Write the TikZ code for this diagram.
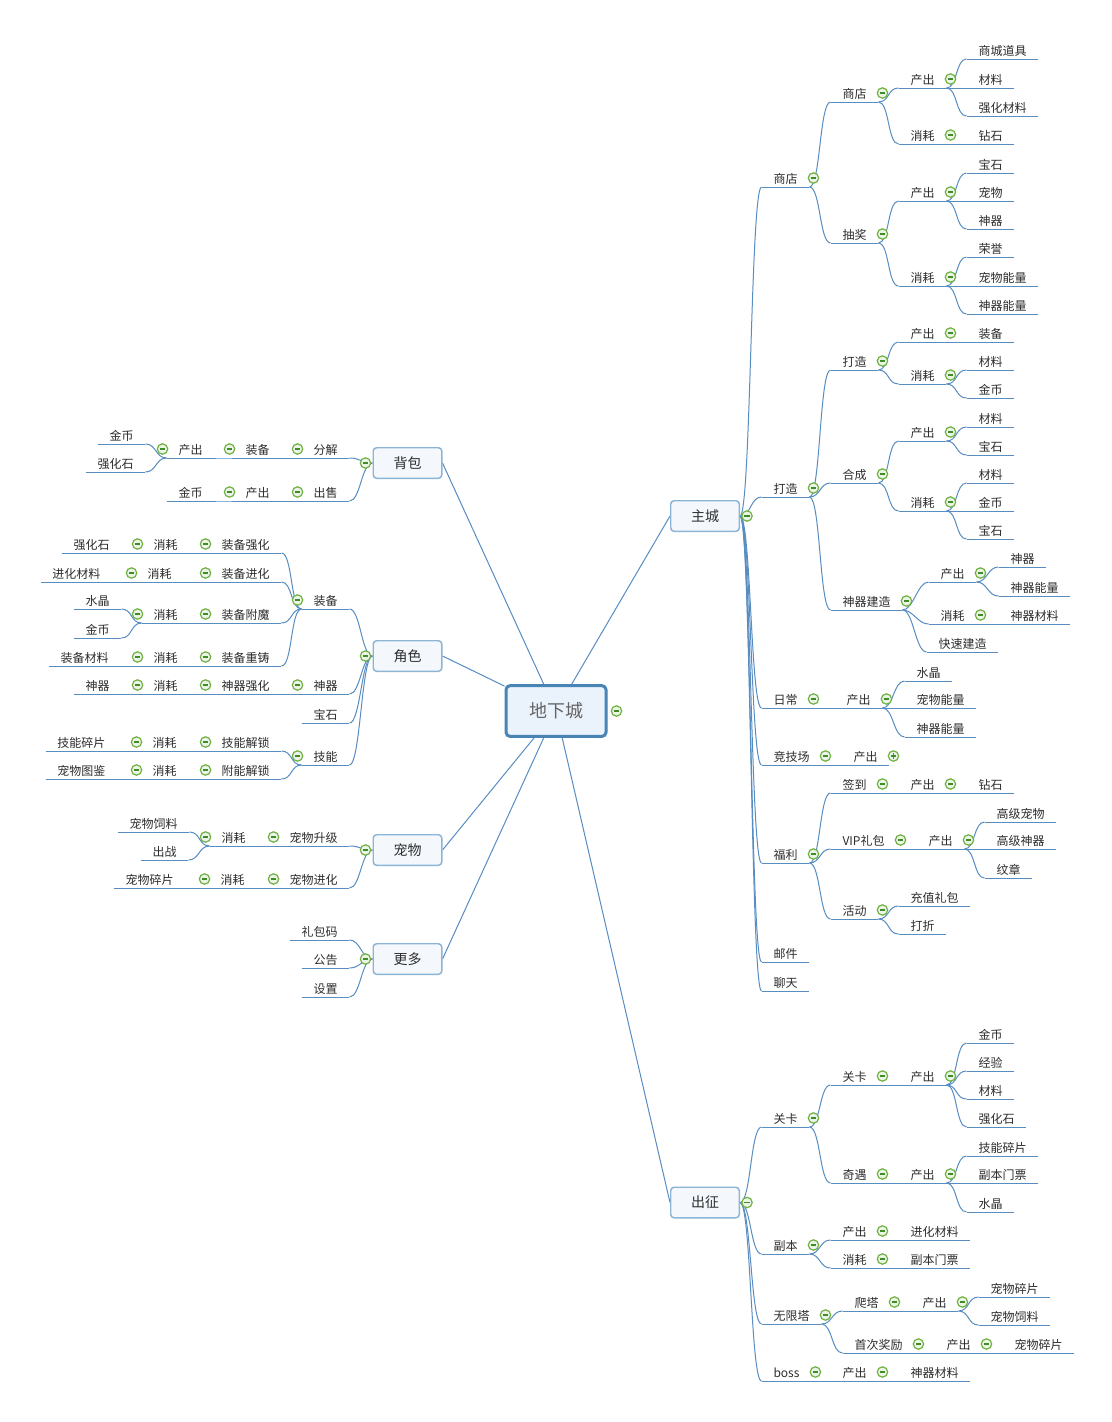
\documentclass[tikz,border=0pt]{standalone}
\usepackage{fontspec}
\newfontfamily\cjk{Noto Sans CJK SC}
\usetikzlibrary{calc}
\pgfdeclarelayer{background}
\pgfsetlayers{background,main}

\definecolor{linkblue}{RGB}{88,141,193}
\definecolor{boxline}{RGB}{140,180,212}
\definecolor{boxfill}{RGB}{244,248,253}
\definecolor{rootline}{RGB}{72,132,180}
\definecolor{rootfill}{RGB}{234,242,251}
\definecolor{rootText}{RGB}{100,100,100}
\definecolor{foldring}{RGB}{112,178,66}
\definecolor{foldfill}{RGB}{236,243,231}
\definecolor{foldbar}{RGB}{64,140,40}
\definecolor{txt}{RGB}{45,45,45}

\tikzset{every picture/.style={line width=0.75pt}}
\tikzset{
  branch/.style={draw=linkblue, line width=0.75pt},
  rlink/.style={branch, to path={.. controls +(11,0) and +(-11,0) .. (\tikztotarget)}},
  llink/.style={branch, to path={.. controls +(-11,0) and +(11,0) .. (\tikztotarget)}},
  foldpic/.pic={
    \draw[draw=foldring, fill=foldfill, line width=0.9pt] (0,0) circle [radius=5.2];
    \draw[draw=foldbar, line width=1.1pt] (-2.6,0) -- (2.6,0);},
  expandpic/.pic={
    \draw[draw=foldring, fill=foldfill, line width=0.9pt] (0,0) circle [radius=5.2];
    \draw[draw=foldbar, line width=1.1pt] (-2.6,0) -- (2.6,0) (0,-2.6) -- (0,2.6);},
  topic/.style={font=\cjk\fontsize{9}{11}\selectfont, text=txt, inner xsep=8.6pt, inner ysep=0.4pt,
    text height=7pt, text depth=1.5pt,
    append after command={(\tikzlastnode.south west) edge[branch] (\tikzlastnode.south east)}},
  rtopic/.style={topic, anchor=south west, xshift=-8.6pt},
  ltopic/.style={topic, anchor=south east, xshift=8.6pt},
  rfold/.style={rtopic, append after command={pic at ($(\tikzlastnode.south east)+(4,-9)$) {foldpic}}},
  lfold/.style={ltopic, append after command={pic at ($(\tikzlastnode.south west)+(-4,-9)$) {foldpic}}},
  rplus/.style={rtopic, append after command={pic at ($(\tikzlastnode.south east)+(4,-9)$) {expandpic}}},
  mainbox/.style={draw=boxline, line width=1.1pt, fill=boxfill, rounded corners=2.5pt,
    minimum width=51.4pt, minimum height=22.9pt, font=\cjk\fontsize{10.5}{12}\selectfont, text=txt},
  rootbox/.style={draw=rootline, line width=2.25pt, fill=rootfill, rounded corners=3pt,
    minimum width=75pt, minimum height=38pt, font=\cjk\fontsize{13.5}{15}\selectfont, text=rootText}
}

\begin{document}
\begin{tikzpicture}[x=0.75pt,y=0.75pt,yscale=-1,xscale=1]
\useasboundingbox (0,0) rectangle (1112,1422);

% Root
\node[rootbox] (root) at (556,711) {地下城};

%% ---------------- 主城 ----------------
\node[mainbox] (zc) at (705,516) {主城};
% 商店
\node[rfold] (sd) at (773,187) {商店};
\node[rfold] (sd-sd) at (842,102) {商店};
\node[rfold] (sd-sd-cc) at (910,88) {产出};
\node[rtopic] (sd-sd-cc-1) at (978,59) {商城道具};
\node[rtopic] (sd-sd-cc-2) at (978,88) {材料};
\node[rtopic] (sd-sd-cc-3) at (978,116) {强化材料};
\node[rfold] (sd-sd-xh) at (910,144) {消耗};
\node[rtopic] (sd-sd-xh-1) at (978,144) {钻石};
\node[rfold] (sd-cj) at (842,243) {抽奖};
\node[rfold] (sd-cj-cc) at (910,201) {产出};
\node[rtopic] (sd-cj-cc-1) at (978,173) {宝石};
\node[rtopic] (sd-cj-cc-2) at (978,201) {宠物};
\node[rtopic] (sd-cj-cc-3) at (978,229) {神器};
\node[rfold] (sd-cj-xh) at (910,286) {消耗};
\node[rtopic] (sd-cj-xh-1) at (978,257) {荣誉};
\node[rtopic] (sd-cj-xh-2) at (978,286) {宠物能量};
\node[rtopic] (sd-cj-xh-3) at (978,314) {神器能量};
% 打造
\node[rfold] (dz) at (773,497) {打造};
\node[rfold] (dz-dz) at (842,370) {打造};
\node[rfold] (dz-dz-cc) at (910,342) {产出};
\node[rtopic] (dz-dz-cc-1) at (978,342) {装备};
\node[rfold] (dz-dz-xh) at (910,384) {消耗};
\node[rtopic] (dz-dz-xh-1) at (978,370) {材料};
\node[rtopic] (dz-dz-xh-2) at (978,398) {金币};
\node[rfold] (dz-hc) at (842,483) {合成};
\node[rfold] (dz-hc-cc) at (910,441) {产出};
\node[rtopic] (dz-hc-cc-1) at (978,427) {材料};
\node[rtopic] (dz-hc-cc-2) at (978,455) {宝石};
\node[rfold] (dz-hc-xh) at (910,511) {消耗};
\node[rtopic] (dz-hc-xh-1) at (978,483) {材料};
\node[rtopic] (dz-hc-xh-2) at (978,511) {金币};
\node[rtopic] (dz-hc-xh-3) at (978,539) {宝石};
\node[rfold] (dz-sq) at (842,610) {神器建造};
\node[rfold] (dz-sq-cc) at (940,582) {产出};
\node[rtopic] (dz-sq-cc-1) at (1010,567) {神器};
\node[rtopic] (dz-sq-cc-2) at (1010,596) {神器能量};
\node[rfold] (dz-sq-xh) at (940,624) {消耗};
\node[rtopic] (dz-sq-xh-1) at (1010,624) {神器材料};
\node[rtopic] (dz-sq-ks) at (938,652) {快速建造};
% 日常, 竞技场
\node[rfold] (rc) at (773,708) {日常};
\node[rfold] (rc-cc) at (846,708) {产出};
\node[rtopic] (rc-cc-1) at (916,681) {水晶};
\node[rtopic] (rc-cc-2) at (916,708) {宠物能量};
\node[rtopic] (rc-cc-3) at (916,737) {神器能量};
\node[rfold] (jjc) at (773,765) {竞技场};
\node[rplus] (jjc-cc) at (853,765) {产出};
% 福利
\node[rfold] (fl) at (773,863) {福利};
\node[rfold] (fl-qd) at (842,793) {签到};
\node[rfold] (fl-qd-cc) at (910,793) {产出};
\node[rtopic] (fl-qd-cc-1) at (978,793) {钻石};
\node[rfold] (fl-vip) at (842,849) {VIP礼包};
\node[rfold] (fl-vip-cc) at (928,849) {产出};
\node[rtopic] (fl-vip-cc-1) at (996,822) {高级宠物};
\node[rtopic] (fl-vip-cc-2) at (996,849) {高级神器};
\node[rtopic] (fl-vip-cc-3) at (996,878) {纹章};
\node[rfold] (fl-hd) at (842,919) {活动};
\node[rtopic] (fl-hd-1) at (910,906) {充值礼包};
\node[rtopic] (fl-hd-2) at (910,934) {打折};
% 邮件, 聊天
\node[rtopic] (yj) at (773,962) {邮件};
\node[rtopic] (lt) at (773,991) {聊天};

%% ---------------- 出征 ----------------
\node[mainbox] (cz) at (705,1202.5) {出征};
\node[rfold] (cz-gk) at (773,1127) {关卡};
\node[rfold] (cz-gk-gk) at (842,1085) {关卡};
\node[rfold] (cz-gk-gk-cc) at (910,1085) {产出};
\node[rtopic] (cz-gk-gk-cc-1) at (978,1043) {金币};
\node[rtopic] (cz-gk-gk-cc-2) at (978,1071) {经验};
\node[rtopic] (cz-gk-gk-cc-3) at (978,1099) {材料};
\node[rtopic] (cz-gk-gk-cc-4) at (978,1127) {强化石};
\node[rfold] (cz-gk-qy) at (842,1183) {奇遇};
\node[rfold] (cz-gk-qy-cc) at (910,1183) {产出};
\node[rtopic] (cz-gk-qy-cc-1) at (978,1156) {技能碎片};
\node[rtopic] (cz-gk-qy-cc-2) at (978,1183) {副本门票};
\node[rtopic] (cz-gk-qy-cc-3) at (978,1212) {水晶};
\node[rfold] (cz-fb) at (773,1254) {副本};
\node[rfold] (cz-fb-cc) at (842,1240) {产出};
\node[rtopic] (cz-fb-cc-1) at (910,1240) {进化材料};
\node[rfold] (cz-fb-xh) at (842,1268) {消耗};
\node[rtopic] (cz-fb-xh-1) at (910,1268) {副本门票};
\node[rfold] (cz-wxt) at (773,1324) {无限塔};
\node[rfold] (cz-wxt-pt) at (854,1311) {爬塔};
\node[rfold] (cz-wxt-pt-cc) at (922,1311) {产出};
\node[rtopic] (cz-wxt-pt-cc-1) at (990,1297) {宠物碎片};
\node[rtopic] (cz-wxt-pt-cc-2) at (990,1325) {宠物饲料};
\node[rfold] (cz-wxt-sc) at (854,1353) {首次奖励};
\node[rfold] (cz-wxt-sc-cc) at (946,1353) {产出};
\node[rtopic] (cz-wxt-sc-cc-1) at (1014,1353) {宠物碎片};
\node[rfold] (cz-boss) at (773,1381) {boss};
\node[rfold] (cz-boss-cc) at (842,1381) {产出};
\node[rtopic] (cz-boss-cc-1) at (910,1381) {神器材料};

%% ---------------- 背包 ----------------
\node[mainbox] (bb) at (407.5,463) {背包};
\node[lfold] (bb-fj) at (338,458) {分解};
\node[lfold] (bb-fj-zb) at (270,458) {装备};
\node[lfold] (bb-fj-zb-cc) at (203,458) {产出};
\node[ltopic] (bb-fj-zb-cc-1) at (134,444) {金币};
\node[ltopic] (bb-fj-zb-cc-2) at (134,472) {强化石};
\node[lfold] (bb-cs) at (338,501) {出售};
\node[lfold] (bb-cs-cc) at (270,501) {产出};
\node[ltopic] (bb-cs-cc-1) at (203,501) {金币};

%% ---------------- 角色 ----------------
\node[mainbox] (js) at (407.5,656) {角色};
\node[lfold] (js-zb) at (338,609) {装备};
\node[lfold] (js-zb-qh) at (270,553) {装备强化};
\node[lfold] (js-zb-qh-xh) at (178,553) {消耗};
\node[ltopic] (js-zb-qh-xh-1) at (110,553) {强化石};
\node[lfold] (js-zb-jh) at (270,582) {装备进化};
\node[lfold] (js-zb-jh-xh) at (172,582) {消耗};
\node[ltopic] (js-zb-jh-xh-1) at (101,582) {进化材料};
\node[lfold] (js-zb-fm) at (270,623) {装备附魔};
\node[lfold] (js-zb-fm-xh) at (178,623) {消耗};
\node[ltopic] (js-zb-fm-xh-1) at (110,609) {水晶};
\node[ltopic] (js-zb-fm-xh-2) at (110,638) {金币};
\node[lfold] (js-zb-cz) at (270,666) {装备重铸};
\node[lfold] (js-zb-cz-xh) at (178,666) {消耗};
\node[ltopic] (js-zb-cz-xh-1) at (109,666) {装备材料};
\node[lfold] (js-sq) at (338,694) {神器};
\node[lfold] (js-sq-qh) at (270,694) {神器强化};
\node[lfold] (js-sq-qh-xh) at (178,694) {消耗};
\node[ltopic] (js-sq-qh-xh-1) at (110,694) {神器};
\node[ltopic] (js-bs) at (338,723) {宝石};
\node[lfold] (js-jn) at (338,765) {技能};
\node[lfold] (js-jn-js) at (270,751) {技能解锁};
\node[lfold] (js-jn-js-xh) at (177,751) {消耗};
\node[ltopic] (js-jn-js-xh-1) at (106,751) {技能碎片};
\node[lfold] (js-jn-fn) at (270,779) {附能解锁};
\node[lfold] (js-jn-fn-xh) at (177,779) {消耗};
\node[ltopic] (js-jn-fn-xh-1) at (106,779) {宠物图鉴};

%% ---------------- 宠物 ----------------
\node[mainbox] (cw) at (407.5,850) {宠物};
\node[lfold] (cw-sj) at (338,846) {宠物升级};
\node[lfold] (cw-sj-xh) at (246,846) {消耗};
\node[ltopic] (cw-sj-xh-1) at (178,832) {宠物饲料};
\node[ltopic] (cw-sj-xh-2) at (177,860) {出战};
\node[lfold] (cw-jh) at (338,888) {宠物进化};
\node[lfold] (cw-jh-xh) at (245,888) {消耗};
\node[ltopic] (cw-jh-xh-1) at (174,888) {宠物碎片};

%% ---------------- 更多 ----------------
\node[mainbox] (gd) at (407.5,959) {更多};
\node[ltopic] (gd-lbm) at (338,940) {礼包码};
\node[ltopic] (gd-gg) at (338,968) {公告};
\node[ltopic] (gd-sz) at (338,997) {设置};

% fold marks on the boxes
\pic at ($(root.east)+(9,0)$) {foldpic};
\pic at ($(zc.east)+(7,0)$) {foldpic};
\pic at ($(cz.east)+(7,0)$) {foldpic};
\pic at ($(bb.west)+(-7,0)$) {foldpic};
\pic at ($(js.west)+(-7,0)$) {foldpic};
\pic at ($(cw.west)+(-7,0)$) {foldpic};
\pic at ($(gd.west)+(-7,0)$) {foldpic};

\begin{pgfonlayer}{background}
\fill[white] (0,0) rectangle (1112,1422);
% root to boxes
\path (root) edge[branch] (zc.west) edge[branch] (cz.west) edge[branch] (bb.east)
  edge[branch] (js.east) edge[branch] (cw.east) edge[branch] (gd.east);
% 主城 branches
\path (zc.east) edge[rlink] (sd.south west) edge[rlink] (dz.south west) edge[rlink] (rc.south west)
  edge[rlink] (jjc.south west) edge[rlink] (fl.south west) edge[rlink] (yj.south west) edge[rlink] (lt.south west);
\path (sd.south east) edge[rlink] (sd-sd.south west) edge[rlink] (sd-cj.south west);
\path (sd-sd.south east) edge[rlink] (sd-sd-cc.south west) edge[rlink] (sd-sd-xh.south west);
\path (sd-sd-cc.south east) edge[rlink] (sd-sd-cc-1.south west) edge[rlink] (sd-sd-cc-2.south west) edge[rlink] (sd-sd-cc-3.south west);
\path (sd-sd-xh.south east) edge[rlink] (sd-sd-xh-1.south west);
\path (sd-cj.south east) edge[rlink] (sd-cj-cc.south west) edge[rlink] (sd-cj-xh.south west);
\path (sd-cj-cc.south east) edge[rlink] (sd-cj-cc-1.south west) edge[rlink] (sd-cj-cc-2.south west) edge[rlink] (sd-cj-cc-3.south west);
\path (sd-cj-xh.south east) edge[rlink] (sd-cj-xh-1.south west) edge[rlink] (sd-cj-xh-2.south west) edge[rlink] (sd-cj-xh-3.south west);
\path (dz.south east) edge[rlink] (dz-dz.south west) edge[rlink] (dz-hc.south west) edge[rlink] (dz-sq.south west);
\path (dz-dz.south east) edge[rlink] (dz-dz-cc.south west) edge[rlink] (dz-dz-xh.south west);
\path (dz-dz-cc.south east) edge[rlink] (dz-dz-cc-1.south west);
\path (dz-dz-xh.south east) edge[rlink] (dz-dz-xh-1.south west) edge[rlink] (dz-dz-xh-2.south west);
\path (dz-hc.south east) edge[rlink] (dz-hc-cc.south west) edge[rlink] (dz-hc-xh.south west);
\path (dz-hc-cc.south east) edge[rlink] (dz-hc-cc-1.south west) edge[rlink] (dz-hc-cc-2.south west);
\path (dz-hc-xh.south east) edge[rlink] (dz-hc-xh-1.south west) edge[rlink] (dz-hc-xh-2.south west) edge[rlink] (dz-hc-xh-3.south west);
\path (dz-sq.south east) edge[rlink] (dz-sq-cc.south west) edge[rlink] (dz-sq-xh.south west) edge[rlink] (dz-sq-ks.south west);
\path (dz-sq-cc.south east) edge[rlink] (dz-sq-cc-1.south west) edge[rlink] (dz-sq-cc-2.south west);
\path (dz-sq-xh.south east) edge[rlink] (dz-sq-xh-1.south west);
\path (rc.south east) edge[rlink] (rc-cc.south west);
\path (rc-cc.south east) edge[rlink] (rc-cc-1.south west) edge[rlink] (rc-cc-2.south west) edge[rlink] (rc-cc-3.south west);
\path (jjc.south east) edge[rlink] (jjc-cc.south west);
\path (fl.south east) edge[rlink] (fl-qd.south west) edge[rlink] (fl-vip.south west) edge[rlink] (fl-hd.south west);
\path (fl-qd.south east) edge[rlink] (fl-qd-cc.south west);
\path (fl-qd-cc.south east) edge[rlink] (fl-qd-cc-1.south west);
\path (fl-vip.south east) edge[rlink] (fl-vip-cc.south west);
\path (fl-vip-cc.south east) edge[rlink] (fl-vip-cc-1.south west) edge[rlink] (fl-vip-cc-2.south west) edge[rlink] (fl-vip-cc-3.south west);
\path (fl-hd.south east) edge[rlink] (fl-hd-1.south west) edge[rlink] (fl-hd-2.south west);
% 出征 branches
\path (cz.east) edge[rlink] (cz-gk.south west) edge[rlink] (cz-fb.south west) edge[rlink] (cz-wxt.south west) edge[rlink] (cz-boss.south west);
\path (cz-gk.south east) edge[rlink] (cz-gk-gk.south west) edge[rlink] (cz-gk-qy.south west);
\path (cz-gk-gk.south east) edge[rlink] (cz-gk-gk-cc.south west);
\path (cz-gk-gk-cc.south east) edge[rlink] (cz-gk-gk-cc-1.south west) edge[rlink] (cz-gk-gk-cc-2.south west)
  edge[rlink] (cz-gk-gk-cc-3.south west) edge[rlink] (cz-gk-gk-cc-4.south west);
\path (cz-gk-qy.south east) edge[rlink] (cz-gk-qy-cc.south west);
\path (cz-gk-qy-cc.south east) edge[rlink] (cz-gk-qy-cc-1.south west) edge[rlink] (cz-gk-qy-cc-2.south west) edge[rlink] (cz-gk-qy-cc-3.south west);
\path (cz-fb.south east) edge[rlink] (cz-fb-cc.south west) edge[rlink] (cz-fb-xh.south west);
\path (cz-fb-cc.south east) edge[rlink] (cz-fb-cc-1.south west);
\path (cz-fb-xh.south east) edge[rlink] (cz-fb-xh-1.south west);
\path (cz-wxt.south east) edge[rlink] (cz-wxt-pt.south west) edge[rlink] (cz-wxt-sc.south west);
\path (cz-wxt-pt.south east) edge[rlink] (cz-wxt-pt-cc.south west);
\path (cz-wxt-pt-cc.south east) edge[rlink] (cz-wxt-pt-cc-1.south west) edge[rlink] (cz-wxt-pt-cc-2.south west);
\path (cz-wxt-sc.south east) edge[rlink] (cz-wxt-sc-cc.south west);
\path (cz-wxt-sc-cc.south east) edge[rlink] (cz-wxt-sc-cc-1.south west);
\path (cz-boss.south east) edge[rlink] (cz-boss-cc.south west);
\path (cz-boss-cc.south east) edge[rlink] (cz-boss-cc-1.south west);
% 背包 branches
\path (bb.west) edge[llink] (bb-fj.south east) edge[llink] (bb-cs.south east);
\path (bb-fj.south west) edge[llink] (bb-fj-zb.south east);
\path (bb-fj-zb.south west) edge[llink] (bb-fj-zb-cc.south east);
\path (bb-fj-zb-cc.south west) edge[llink] (bb-fj-zb-cc-1.south east) edge[llink] (bb-fj-zb-cc-2.south east);
\path (bb-cs.south west) edge[llink] (bb-cs-cc.south east);
\path (bb-cs-cc.south west) edge[llink] (bb-cs-cc-1.south east);
% 角色 branches
\path (js.west) edge[llink] (js-zb.south east) edge[llink] (js-sq.south east) edge[llink] (js-bs.south east) edge[llink] (js-jn.south east);
\path (js-zb.south west) edge[llink] (js-zb-qh.south east) edge[llink] (js-zb-jh.south east)
  edge[llink] (js-zb-fm.south east) edge[llink] (js-zb-cz.south east);
\path (js-zb-qh.south west) edge[llink] (js-zb-qh-xh.south east);
\path (js-zb-qh-xh.south west) edge[llink] (js-zb-qh-xh-1.south east);
\path (js-zb-jh.south west) edge[llink] (js-zb-jh-xh.south east);
\path (js-zb-jh-xh.south west) edge[llink] (js-zb-jh-xh-1.south east);
\path (js-zb-fm.south west) edge[llink] (js-zb-fm-xh.south east);
\path (js-zb-fm-xh.south west) edge[llink] (js-zb-fm-xh-1.south east) edge[llink] (js-zb-fm-xh-2.south east);
\path (js-zb-cz.south west) edge[llink] (js-zb-cz-xh.south east);
\path (js-zb-cz-xh.south west) edge[llink] (js-zb-cz-xh-1.south east);
\path (js-sq.south west) edge[llink] (js-sq-qh.south east);
\path (js-sq-qh.south west) edge[llink] (js-sq-qh-xh.south east);
\path (js-sq-qh-xh.south west) edge[llink] (js-sq-qh-xh-1.south east);
\path (js-jn.south west) edge[llink] (js-jn-js.south east) edge[llink] (js-jn-fn.south east);
\path (js-jn-js.south west) edge[llink] (js-jn-js-xh.south east);
\path (js-jn-js-xh.south west) edge[llink] (js-jn-js-xh-1.south east);
\path (js-jn-fn.south west) edge[llink] (js-jn-fn-xh.south east);
\path (js-jn-fn-xh.south west) edge[llink] (js-jn-fn-xh-1.south east);
% 宠物 branches
\path (cw.west) edge[llink] (cw-sj.south east) edge[llink] (cw-jh.south east);
\path (cw-sj.south west) edge[llink] (cw-sj-xh.south east);
\path (cw-sj-xh.south west) edge[llink] (cw-sj-xh-1.south east) edge[llink] (cw-sj-xh-2.south east);
\path (cw-jh.south west) edge[llink] (cw-jh-xh.south east);
\path (cw-jh-xh.south west) edge[llink] (cw-jh-xh-1.south east);
% 更多 branches
\path (gd.west) edge[llink] (gd-lbm.south east) edge[llink] (gd-gg.south east) edge[llink] (gd-sz.south east);
\end{pgfonlayer}

\end{tikzpicture}
\end{document}
